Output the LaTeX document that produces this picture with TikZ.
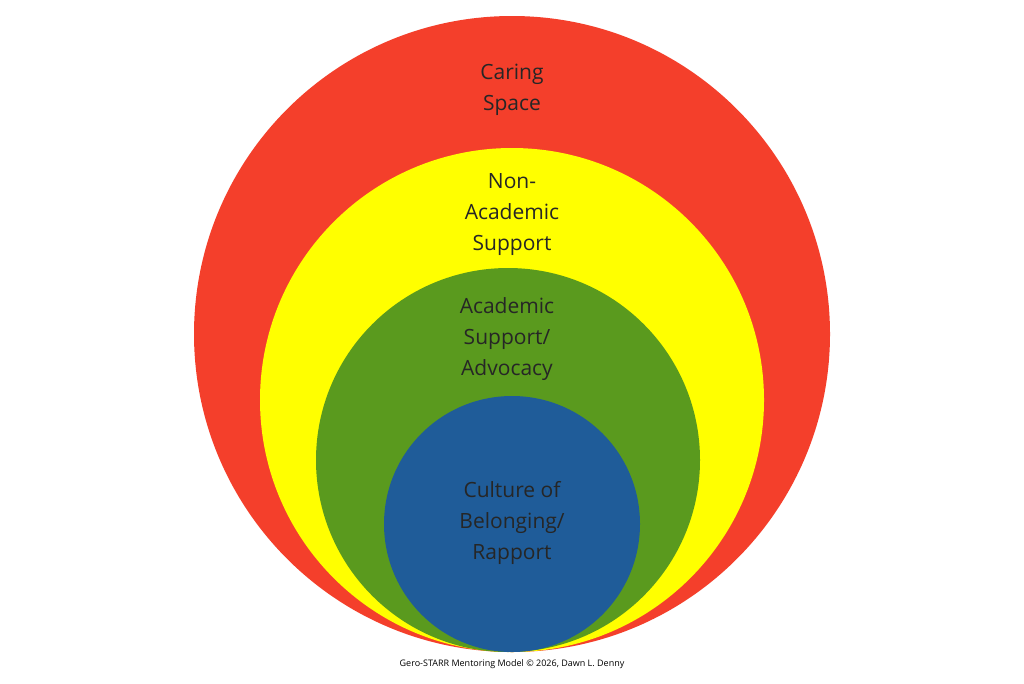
\documentclass[tikz,border=0pt]{standalone}
\usepackage{fontspec}
\setmainfont{Open Sans}
\definecolor{cred}{HTML}{F43F2B}
\definecolor{cyel}{HTML}{FFFF00}
\definecolor{cgrn}{HTML}{5A9A1E}
\definecolor{cblu}{HTML}{1F5C99}
\begin{document}
\begin{tikzpicture}[x=1pt,y=-1pt,
  lbl/.style={align=center,font=\fontsize{21}{31}\selectfont,text=black!85}]
\useasboundingbox (0,0) rectangle (1024,683);
\fill[white] (0,0) rectangle (1024,683);
\node[circle,fill=cred,minimum size=636pt,inner sep=0] (red) at (512,334) {};
\node[circle,fill=cyel,minimum size=504pt,inner sep=0] (yel) at (512,400) {};
\node[circle,fill=cgrn,minimum size=384pt,inner sep=0] (grn) at (508,460) {};
\node[circle,fill=cblu,minimum size=256pt,inner sep=0] (blu) at (512,524) {};
\node[lbl] (t1) at (512,90) {Caring\\Space};
\node[lbl] (t2) at (512,215) {Non-\\Academic\\Support};
\node[lbl] (t3) at (507,339) {Academic\\Support/\\Advocacy};
\node[lbl] (t4) at (512,523) {Culture of\\Belonging/\\Rapport};
\node[font=\fontsize{9}{11}\selectfont] (ft) at (512,664) {Gero-STARR Mentoring Model © 2026, Dawn L. Denny};
\end{tikzpicture}
\end{document}
